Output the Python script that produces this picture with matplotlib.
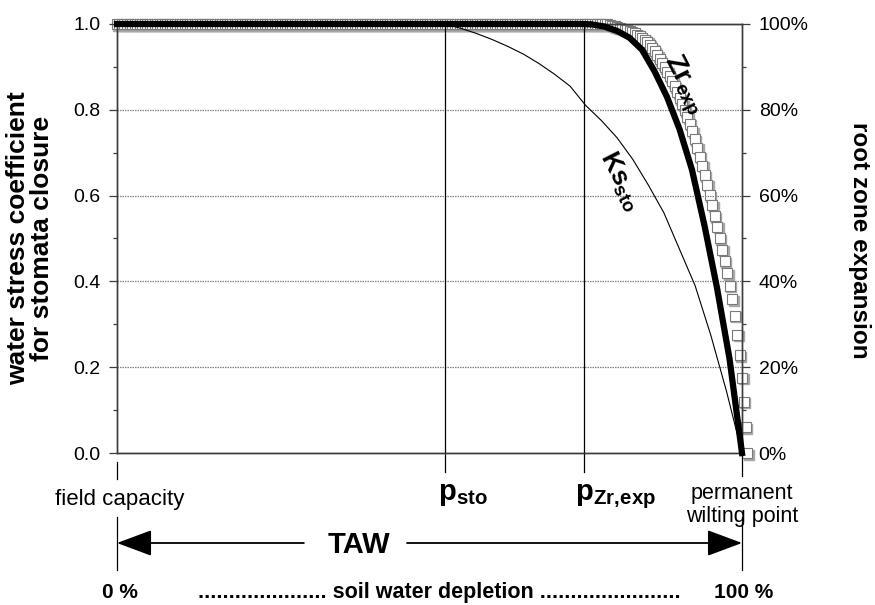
import numpy as np
import matplotlib.pyplot as plt
from matplotlib import transforms
from matplotlib.ticker import MultipleLocator, FormatStrFormatter, PercentFormatter

plt.rcParams['font.family'] = ['Liberation Sans', 'DejaVu Sans']
plt.rcParams['mathtext.fontset'] = 'custom'
plt.rcParams['mathtext.rm'] = 'Liberation Sans'
plt.rcParams['mathtext.bf'] = 'Liberation Sans:bold'

# depletion thresholds (fraction of TAW)
p_sto = 0.524
p_zr_exp = 0.747

# stress coefficient for stomata closure
ks_sto_depl = [0.0, 0.524, 0.55, 0.575, 0.60, 0.625, 0.65, 0.675, 0.70, 0.725,
               0.75, 0.775, 0.80, 0.825, 0.85, 0.875, 0.90, 0.925, 0.95, 0.975, 1.0]
ks_sto = [1.0, 1.0, 0.99, 0.978, 0.964, 0.948, 0.93, 0.908, 0.883, 0.855,
          0.81, 0.775, 0.735, 0.685, 0.625, 0.56, 0.475, 0.39, 0.275, 0.145, 0.0]

# stress coefficient for root zone expansion
ks_exp_depl = [0.0, 0.747, 0.76, 0.78, 0.80, 0.82, 0.84, 0.86, 0.88, 0.90,
               0.92, 0.94, 0.96, 0.98, 1.0]
ks_exp = [1.0, 1.0, 0.999, 0.994, 0.984, 0.968, 0.94, 0.89, 0.83, 0.755,
          0.66, 0.53, 0.385, 0.22, 0.0]

# root zone expansion (right axis), sampled every 0.004 of TAW
zr_depl = np.r_[np.arange(0.0, 1.0001, 0.004), 1.003, 1.006, 1.008]
zr_exp = [1.0] * 195 + [
    1.000, 0.999, 0.998, 0.996, 0.995, 0.993, 0.991, 0.989, 0.987, 0.985,
    0.983, 0.981, 0.978, 0.975, 0.971, 0.967, 0.963, 0.959, 0.952, 0.944,
    0.936, 0.927, 0.918, 0.909, 0.899, 0.889, 0.878, 0.867, 0.855, 0.841,
    0.827, 0.813, 0.799, 0.783, 0.767, 0.750, 0.731, 0.711, 0.691, 0.670,
    0.648, 0.625, 0.601, 0.577, 0.552, 0.527, 0.501, 0.474, 0.447, 0.419,
    0.390, 0.358, 0.320, 0.276, 0.228, 0.175, 0.120, 0.060, 0.000]

fig = plt.figure(figsize=(8.75, 6.05), dpi=100)
ax = fig.add_axes([117 / 875, 1 - 453 / 605, 625 / 875, 429 / 605])
ax2 = ax.twinx()
ax.set_zorder(ax2.get_zorder() + 1)
ax.patch.set_visible(False)

frame = '#3c3c3c'
for a in (ax, ax2):
    a.set_xlim(0, 1)
    a.set_ylim(0, 1)
    for s in a.spines.values():
        s.set_color(frame)
        s.set_linewidth(1.0)
    a.yaxis.set_major_locator(MultipleLocator(0.2))
    a.yaxis.set_minor_locator(MultipleLocator(0.1))
    a.tick_params(axis='y', which='major', direction='out', length=6, width=0.9,
                  color=frame, labelsize=14, pad=6)
    a.tick_params(axis='y', which='minor', direction='out', length=3, width=0.9, color=frame)
ax.set_xticks([])
ax2.set_xticks([])
ax.yaxis.set_major_formatter(FormatStrFormatter('%.1f'))
ax2.yaxis.set_major_formatter(PercentFormatter(1.0, decimals=0))

ax.grid(axis='y', which='major', color='#808080', linestyle=(0, (1.2, 0.8)), linewidth=0.9)

# root zone expansion markers: grey shadow, then white face
shadow = ax2.transData + transforms.ScaledTranslation(1.5 / 100, -1.5 / 100, fig.dpi_scale_trans)
ax2.plot(zr_depl, zr_exp, ls='none', marker='s', ms=7.5, mfc='#a8a8a8', mec='#a8a8a8',
         transform=shadow, clip_on=False)
ax2.plot(zr_depl, zr_exp, ls='none', marker='s', ms=7.5, mfc='white', mec='#7a7a7a',
         mew=0.8, clip_on=False)

# threshold lines, reaching a little below the axis
for p in (p_sto, p_zr_exp):
    ax.plot([p, p], [-0.044, 1.0], color='black', lw=0.9, clip_on=False)

ax.plot(ks_sto_depl, ks_sto, color='black', lw=0.8)
ax.plot(ks_exp_depl, ks_exp, color='black', lw=4.5, clip_on=False, zorder=3,
        solid_joinstyle='round')

ax.text(0.906, 0.858, r'$\mathbf{Zr_{exp}}$', rotation=-63, fontsize=20,
        ha='center', va='center')
ax.text(0.805, 0.633, r'$\mathbf{Ks_{sto}}$', rotation=-63, fontsize=19,
        ha='center', va='center')

# annotations beneath the axis
tb = transforms.blended_transform_factory(ax.transData, fig.transFigure)

def fy(px):
    return 1 - px / 605

ax.plot([0, 0], [fy(462), fy(479)], color='black', lw=0.9, transform=tb, clip_on=False)
ax.plot([1, 1], [fy(453), fy(476)], color='black', lw=0.9, transform=tb, clip_on=False)
ax.plot([0, 0], [fy(517), fy(570)], color='black', lw=0.9, transform=tb, clip_on=False)
ax.plot([1, 1], [fy(517), fy(570)], color='black', lw=0.9, transform=tb, clip_on=False)

ax.text(0.004, fy(505), 'field capacity', transform=tb, ha='center', va='baseline', fontsize=16)
ax.text(1.0, fy(522), 'permanent\nwilting point', transform=tb, ha='center', va='baseline',
        fontsize=15.5, linespacing=1.1)
ax.text(p_sto - 0.01, fy(500), r'$\mathbf{p_{sto}}$', transform=tb, ha='left',
        va='baseline', fontsize=21)
ax.text(p_zr_exp - 0.014, fy(500), r'$\mathbf{p_{Zr,\!exp}}$', transform=tb, ha='left',
        va='baseline', fontsize=21)

arrow = dict(arrowstyle='-|>,head_length=2.2,head_width=0.82', mutation_scale=10,
             color='black', lw=1.3, shrinkA=0, shrinkB=0)
ax.annotate('', xy=(0, fy(543)), xytext=(0.299, fy(543)), xycoords=tb, textcoords=tb,
            arrowprops=arrow, annotation_clip=False)
ax.annotate('', xy=(1, fy(543)), xytext=(0.464, fy(543)), xycoords=tb, textcoords=tb,
            arrowprops=arrow, annotation_clip=False)
ax.text(0.387, fy(545), 'TAW', transform=tb, ha='center', va='center',
        fontsize=21, fontweight='bold')

ax.text(0.005, fy(598), '0 %', transform=tb, ha='center', va='baseline',
        fontsize=15, fontweight='bold')
ax.text(1.003, fy(598), '100 %', transform=tb, ha='center', va='baseline',
        fontsize=15, fontweight='bold')
ax.text(0.516, fy(598), '.' * 21 + ' soil water depletion ' + '.' * 23, transform=tb,
        ha='center', va='baseline', fontsize=15.5, fontweight='bold')

fig.text(18 / 875, 0.606, 'water stress coefficient', rotation=90,
         ha='center', va='center', fontsize=19, fontweight='bold')
fig.text(42 / 875, 0.606, 'for stomata closure', rotation=90,
         ha='center', va='center', fontsize=19, fontweight='bold')
fig.text(859 / 875, 0.602, 'root zone expansion', rotation=270,
         ha='center', va='center', fontsize=17.5, fontweight='bold')

fig.savefig('out.png', dpi=100)
